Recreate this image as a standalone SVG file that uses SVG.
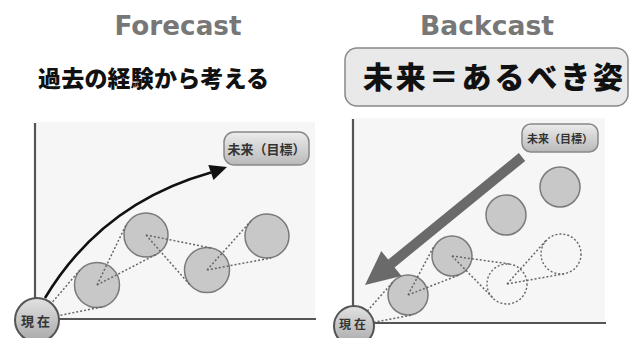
<svg xmlns="http://www.w3.org/2000/svg" width="632" height="338" viewBox="0 0 632 338">
<defs>
<linearGradient id="lbl" x1="0" y1="0" x2="0" y2="1"><stop offset="0" stop-color="#ececec"/><stop offset="1" stop-color="#b9b9b9"/></linearGradient>
<linearGradient id="now" x1="0" y1="0" x2="0" y2="1"><stop offset="0" stop-color="#e2e2e2"/><stop offset="1" stop-color="#a8a8a8"/></linearGradient>
<style>
.head{font-family:"DejaVu Sans","Liberation Sans",sans-serif;font-weight:bold;fill:#777;font-size:26px}
.jp{font-family:"Noto Sans CJK JP",sans-serif;font-weight:900;fill:#111}
.panel{fill:#f6f6f6}
.axis{stroke:#555;stroke-width:2.2;fill:none}
.ball{fill:#c8c8c8;stroke:#7a7a7a;stroke-width:1.5}
.ghost{fill:none;stroke:#666;stroke-width:1.4;stroke-dasharray:2 2}
.dot{stroke:#666;stroke-width:1.5;stroke-dasharray:2 2;fill:none}
.lbl{fill:url(#lbl);stroke:#888;stroke-width:1.5}
.lbltxt{font-family:"Noto Sans CJK JP",sans-serif;font-weight:bold;fill:#333}
.now{fill:url(#now);stroke:#555;stroke-width:2}
</style>
</defs>
<rect width="632" height="338" fill="#fff"/>
<text class="head" x="178" y="35" text-anchor="middle" textLength="127" lengthAdjust="spacingAndGlyphs">Forecast</text>
<text class="head" x="487" y="35" text-anchor="middle" textLength="134" lengthAdjust="spacingAndGlyphs">Backcast</text>
<text class="jp" x="38" y="87" font-size="23" textLength="231">過去の経験から考える</text>
<g id="title-box">
<rect x="345" y="48" width="283" height="58" rx="12" fill="#e9e9e9" stroke="#888" stroke-width="1.5"/>
<text class="jp" x="363" y="88" font-size="30" textLength="260">未来＝あるべき姿</text>
</g>
<rect class="panel" x="36" y="122" width="279" height="197"/>
<rect class="panel" x="354" y="118" width="251" height="205"/>
<path class="axis" d="M35 123 V319 H316"/>
<path class="axis" d="M353 119 V323 H606"/>
<g id="f-c1"><circle class="ball" cx="97" cy="285" r="22.5"/></g>
<g id="f-c2"><circle class="ball" cx="146" cy="235" r="22"/></g>
<g id="f-c3"><circle class="ball" cx="207" cy="270" r="22.5"/></g>
<g id="f-c4"><circle class="ball" cx="267" cy="236" r="22"/></g>
<g id="b-c1"><circle class="ball" cx="408" cy="295" r="20"/></g>
<g id="b-c2"><circle class="ball" cx="452" cy="256" r="20"/></g>
<g id="b-c3"><circle class="ball" cx="506" cy="215" r="20"/></g>
<g id="b-c4"><circle class="ball" cx="560" cy="187" r="20"/></g>
<g id="b-d1"><circle class="ghost" cx="507" cy="284" r="20"/></g>
<g id="b-d2"><circle class="ghost" cx="561" cy="254" r="20"/></g>
<g id="connectors">
<path class="dot" d="M37 320 L80 270 M37 320 L101.5 307 M97 285 L126 225 M97 285 L156 254.5 M146 235 L211 248 M146 235 L190 285 M207 270 L251 221 M207 270 L271 258"/>
<path class="dot" d="M354 326 L393 282 M354 326 L412 315 M408 295 L434 246 M408 295 L459 275 M452 256 L510 264 M452 256 L493 298 M507 284 L546 240.5 M507 284 L565 273.6"/>
<path d="M45 298 Q102 203 211 172.5" fill="none" stroke="#111" stroke-width="2.6"/>
<polygon points="227,167 213.5,180.1 208.3,164.9" fill="#111"/>
<polygon points="518.8,153.1 525.2,160.9 394.6,267.4 401.5,275.9 365,285 381.3,251.1 388.2,259.6" fill="#6a6a6a"/>
</g>
<g id="f-goal">
<rect class="lbl" x="224" y="132" width="85" height="33" rx="10"/>
<text class="lbltxt" x="266.5" y="154" font-size="13" text-anchor="middle">未来（目標）</text>
</g>
<g id="b-goal">
<rect class="lbl" x="522" y="124" width="76" height="28" rx="9"/>
<text class="lbltxt" x="560" y="143" font-size="11" text-anchor="middle">未来（目標）</text>
</g>
<g id="f-now">
<circle class="now" cx="37" cy="320" r="22"/>
<text class="lbltxt" x="37" y="326" font-size="13" text-anchor="middle" letter-spacing="3">現在</text>
</g>
<g id="b-now">
<circle class="now" cx="354" cy="326" r="20"/>
<text class="lbltxt" x="354" y="329" font-size="12" text-anchor="middle" letter-spacing="3">現在</text>
</g>
</svg>
